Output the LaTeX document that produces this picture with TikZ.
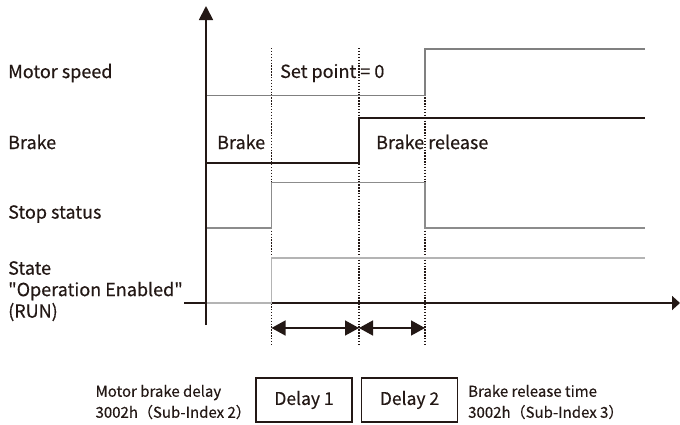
\documentclass[tikz,border=0pt]{standalone}
\usepackage{fontspec}
\setmainfont{Noto Sans CJK JP}[Ligatures=TeXOff, FakeBold=0.35, BoldFont={Noto Sans CJK JP}]
\usetikzlibrary{arrows.meta}
\definecolor{ink}{HTML}{231815}
\definecolor{speedgray}{HTML}{808080}
\definecolor{stopgray}{HTML}{8C8C8C}
\definecolor{stategray}{HTML}{B4B4B4}
\tikzset{
  axis/.style={ink, line width=1.8pt},
  wave/.style={line width=1.8pt, line join=miter},
  marker/.style={ink, line width=1.4pt, dash pattern=on 1.4pt off 1.5pt},
  span/.style={ink, line width=1.5pt, {Triangle[length=14pt,width=15pt]}-{Triangle[length=14pt,width=15pt]}},
  txt/.style={text=ink, inner sep=0pt, font=\bfseries},
  label/.style={txt, font=\fontsize{18}{21.5}\selectfont\bfseries},
  delaybox/.style={draw=ink, line width=1.3pt, minimum width=96pt, minimum height=44pt, font=\fontsize{17.5}{20}\selectfont\bfseries, text=ink},
  param/.style={txt, font=\fontsize{15}{21}\selectfont\bfseries, align=left}
}
\begin{document}
\begin{tikzpicture}[x=1pt,y=-1pt]
\useasboundingbox (0,0) rectangle (680,424);

% time markers
\coordinate (t1) at (271.5,0);
\coordinate (t2) at (359,0);
\coordinate (t3) at (425,0);
\foreach \t in {t1,t2,t3}
  \draw[marker] (\t |- 0,48) -- (\t |- 0,344);

% signal labels
\node[label, anchor=west] (lspeed) at (8,73) {Motor speed};
\node[label, anchor=west] (lbrake) at (8,142) {Brake};
\node[label, anchor=west] (lstop) at (8,214) {Stop status};
\node[label, anchor=north west, align=left] (lstate) at (8,261)
  {State\\"Operation Enabled"\\(RUN)};

% waveforms
\draw[wave, speedgray] (206,95.5) -- (t3 |- 0,95.5) -- (t3 |- 0,49) -- (645,49);
\draw[wave, ink] (206,163) -- (t2 |- 0,163) -- (t2 |- 0,118) -- (645,118);
\draw[wave, stopgray] (206,228) -- (t1 |- 0,228) -- (t1 |- 0,182.5)
  -- (t3 |- 0,182.5) -- (t3 |- 0,228) -- (645,228);
\draw[wave, stategray] (t1 |- 0,303) -- (t1 |- 0,258) -- (645,258);

% axes
\draw[axis, -{Triangle[length=14pt,width=14pt]}] (206,325) -- (206,6);
\draw[axis, -{Triangle[length=8pt,width=14pt]}] (184,303) -- (680,303);
\draw[wave, stategray] (207,303) -- (t1 |- 0,303);

% texts on the chart
\node[label, anchor=west] (setpoint) at (280,73) {Set point = 0};
\node[label, anchor=west] (tbrake) at (217,142) {Brake};
\node[label, anchor=west] (trelease) at (376,142) {Brake release};

% delay spans
\draw[span] (t1 |- 0,328) -- (t2 |- 0,328);
\draw[span] (t2 |- 0,328) -- (t3 |- 0,328);

% delay parameters
\node[delaybox] (d1) at (304,400) {Delay 1};
\node[delaybox] (d2) at (409.5,400) {Delay 2};
\node[param, anchor=east] (p1) at (251,402)
  {Motor brake delay\\3002h（Sub-Index 2）};
\node[param, anchor=west] (p2) at (468,402)
  {Brake release time\\3002h（Sub-Index 3）};
\end{tikzpicture}
\end{document}
